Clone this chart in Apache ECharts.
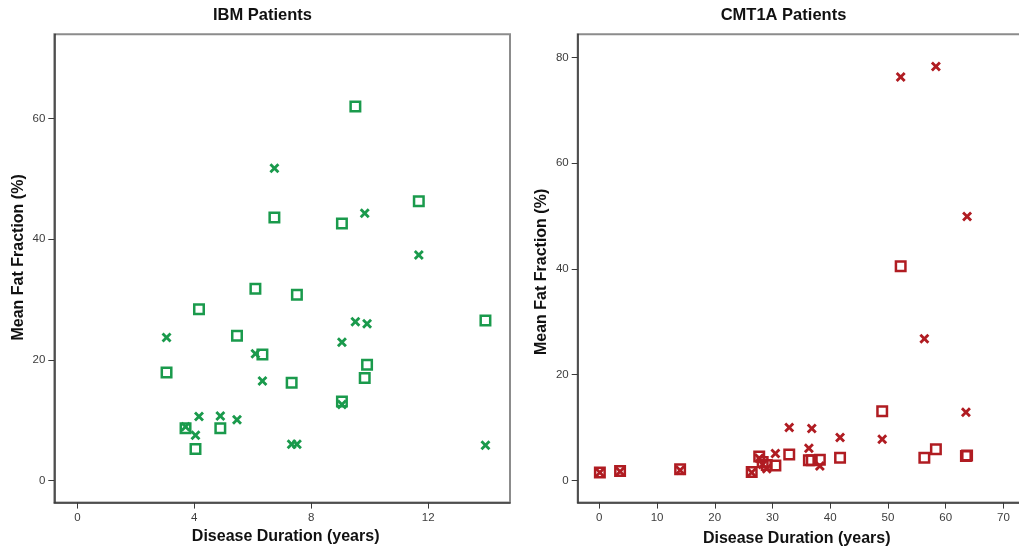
<!DOCTYPE html>
<html>
<head>
<meta charset="utf-8">
<script src="https://cdn.jsdelivr.net/npm/echarts@6/dist/echarts.min.js"></script>
<style>
html,body{margin:0;padding:0;background:#fff;}
#chart{width:1019px;height:553px;}
</style>
</head>
<body>
<div id="chart"></div>
<script>
// ---- Data ----
const ibmDuration   = [9.51, 6.74, 9.05, 11.68, 6.09, 7.51, 4.16, 5.46, 13.96, 6.33, 3.05, 9.91, 9.83, 7.33, 9.05, 3.70, 4.89, 4.04];
const ibmSquare     = [62.0, 43.6, 42.6, 46.3, 31.8, 30.8, 28.4, 24.0, 26.5, 20.9, 17.9, 19.2, 17.0, 16.2, 13.1, 8.65, 8.65, 5.2];
const ibmCross      = [26.3, 51.75, 22.9, 37.4, 21.0, 6.0, 10.6, 10.05, 5.85, 16.5, 23.7, 26.0, 44.3, 6.0, 12.6, 8.9, 10.7, 7.5];

const cmtDuration   = [0.1, 3.6, 14.0, 26.4, 27.7, 28.3, 29.0, 30.5, 32.9, 36.3, 36.8, 38.2, 41.7, 49.0, 52.2, 56.3, 58.3, 63.5, 63.7];
const cmtSquare     = [1.5, 1.8, 2.1, 1.6, 4.5, 3.5, 2.9, 2.8, 4.9, 3.8, 3.8, 3.9, 4.3, 13.1, 40.5, 4.3, 5.9, 4.6, 4.7];
const cmtCross      = [1.5, 1.7, 1.9, 1.5, 4.2, 3.0, 2.2, 5.1, 10.0, 6.1, 9.8, 2.7, 8.1, 7.8, 76.3, 26.8, 78.3, 12.9, 49.9];

const ibmXTicks = [0, 4, 8, 12];
const ibmYTicks = [0, 20, 40, 60];
const cmtXTicks = [0, 10, 20, 30, 40, 50, 60, 70];
const cmtYTicks = [0, 20, 40, 60, 80];

// ---- Styles ----
const GREEN = '#1a9a4c';
const RED = '#b01c22';
const CROSS = 'path://M2,0L5,3L8,0L10,2L7,5L10,8L8,10L5,7L2,10L0,8L3,5L0,2Z';
const FONT = '"Liberation Sans", Arial, sans-serif';

function zip(xs, ys) { return xs.map((x, i) => [x, ys[i]]); }

function axisCfg(grid, min, max, ticks, name, gap, pad) {
  return {
    type: 'value', gridIndex: grid, min: min, max: max,
    name: name, nameLocation: 'middle', nameGap: gap,
    nameTextStyle: { fontFamily: FONT, fontWeight: 'bold', fontSize: 16, color: '#111', padding: pad },
    axisLine: { show: true, onZero: false, lineStyle: { color: '#3a3a3a', width: 1.5 } },
    axisTick: { show: true, length: 6, customValues: ticks, lineStyle: { color: '#3a3a3a', width: 1 } },
    axisLabel: { customValues: ticks, margin: 9, fontFamily: FONT, fontSize: 11.5, color: '#3c3c3c' },
    splitLine: { show: false }
  };
}
function squareSeries(x, y, data, color) {
  return {
    type: 'scatter', xAxisIndex: x, yAxisIndex: y, data: data,
    symbol: 'rect', symbolSize: 9.5,
    itemStyle: { color: 'rgba(0,0,0,0)', borderColor: color, borderWidth: 2.5, opacity: 1 },
    emphasis: { disabled: true }, z: 2
  };
}
function crossSeries(x, y, data, color) {
  return {
    type: 'scatter', xAxisIndex: x, yAxisIndex: y, data: data,
    symbol: CROSS, symbolSize: 10,
    itemStyle: { color: color, opacity: 1 },
    emphasis: { disabled: true }, z: 3
  };
}

const chart = echarts.init(document.getElementById('chart'), null, { renderer: 'canvas' });
chart.setOption({
  animation: false,
  backgroundColor: '#ffffff',
  title: [
    { text: 'IBM Patients', left: 262.5, top: 7, textAlign: 'center', padding: 0,
      textStyle: { fontFamily: FONT, fontWeight: 'bold', fontSize: 16.5, color: '#111' } },
    { text: 'CMT1A Patients', left: 783.5, top: 7, textAlign: 'center', padding: 0,
      textStyle: { fontFamily: FONT, fontWeight: 'bold', fontSize: 16.5, color: '#111' } }
  ],
  grid: [
    { left: 54.3, top: 34.2, width: 455.7, height: 468.4, show: true, borderColor: '#8c8c8c', borderWidth: 2,
      backgroundColor: 'transparent', outerBoundsMode: 'none', containLabel: false },
    { left: 577.7, top: 34.2, width: 450, height: 468.4, show: true, borderColor: '#8c8c8c', borderWidth: 2,
      backgroundColor: 'transparent', outerBoundsMode: 'none', containLabel: false }
  ],
  xAxis: [
    axisCfg(0, -0.79, 14.8, ibmXTicks, 'Disease Duration (years)', 24, [0, 0, 0, 7]),
    axisCfg(1, -3.74, 74.2, cmtXTicks, 'Disease Duration (years)', 28, [0, 12, 0, 0])
  ],
  yAxis: [
    axisCfg(0, -3.68, 74.0, ibmYTicks, 'Mean Fat Fraction (%)', 28, [0, 0, 0, 22]),
    axisCfg(1, -4.2, 84.4, cmtYTicks, 'Mean Fat Fraction (%)', 28, [0, 7, 0, 0])
  ],
  series: [
    squareSeries(0, 0, zip(ibmDuration, ibmSquare), GREEN),
    crossSeries(0, 0, zip(ibmDuration, ibmCross), GREEN),
    squareSeries(1, 1, zip(cmtDuration, cmtSquare), RED),
    crossSeries(1, 1, zip(cmtDuration, cmtCross), RED)
  ]
});
</script>
</body>
</html>
